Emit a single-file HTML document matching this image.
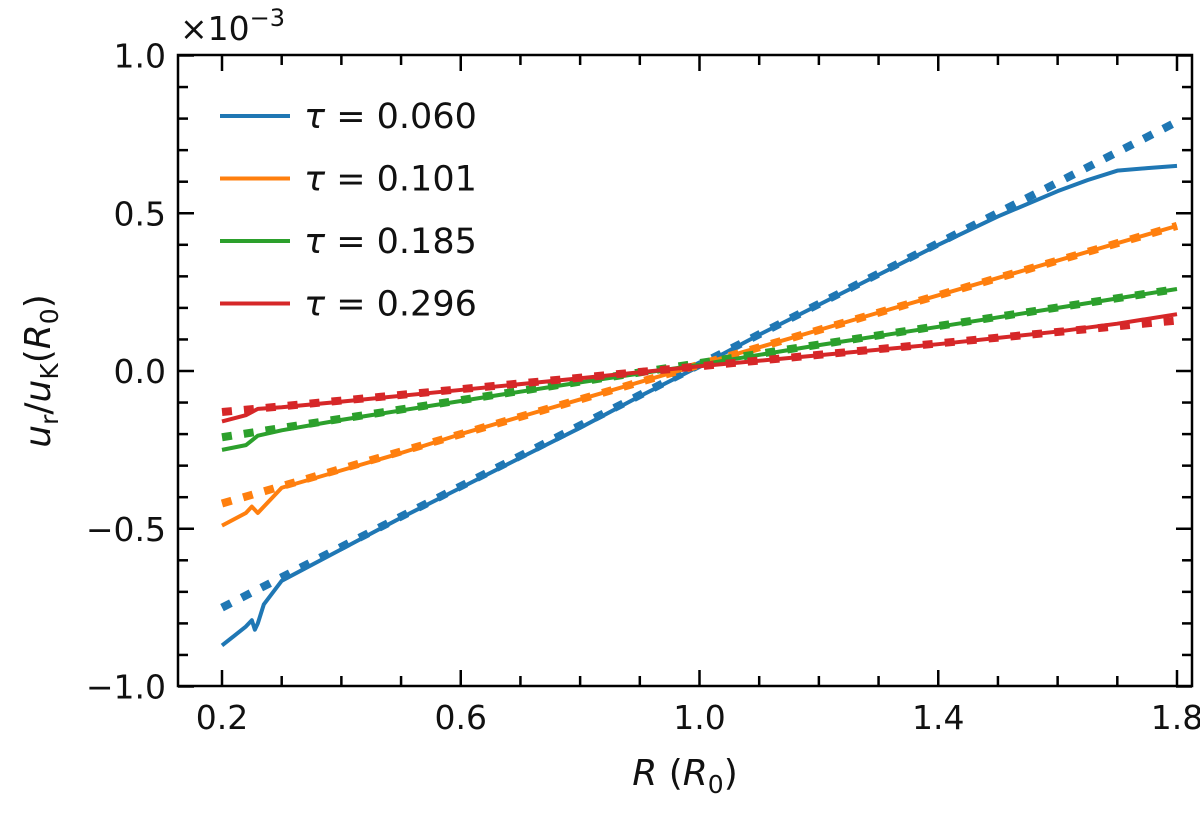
<!DOCTYPE html>
<html><head><meta charset="utf-8"><style>
body{margin:0;background:#fff}
svg text{font-family:"DejaVu Sans","Liberation Sans",sans-serif;fill:#111}
</style></head><body>
<svg id="c" width="1200" height="809"></svg>
<script>
const xTicks=[0.2,0.6,1.0,1.4,1.8];
const xTickLabels=["0.2","0.6","1.0","1.4","1.8"];
const yTicks=[-1,-0.5,0,0.5,1];
const yTickLabels=["\u22121.0","\u22120.5","0.0","0.5","1.0"];
const seriesNames=["0.060","0.101","0.185","0.296"];
const colors=["#1f77b4","#ff7f0e","#2ca02c","#d62728"];
const blueR=[0.2,0.22,0.24,0.25,0.255,0.26,0.27,0.3,0.4,0.5,0.6,0.7,0.8,0.9,1.0,1.1,1.2,1.3,1.4,1.5,1.6,1.65,1.7,1.75,1.8];
const blueU=[-0.87,-0.84,-0.81,-0.79,-0.82,-0.8,-0.74,-0.665,-0.565,-0.465,-0.37,-0.275,-0.18,-0.08,0.015,0.115,0.21,0.305,0.4,0.49,0.57,0.605,0.635,0.643,0.65];
const orangeR=[0.2,0.24,0.25,0.26,0.28,0.3,0.4,0.5,0.6,0.7,0.8,0.9,1.0,1.1,1.2,1.3,1.4,1.5,1.6,1.7,1.8];
const orangeU=[-0.49,-0.45,-0.43,-0.45,-0.41,-0.37,-0.315,-0.26,-0.2,-0.145,-0.09,-0.035,0.02,0.075,0.13,0.185,0.24,0.295,0.35,0.405,0.46];
const greenR=[0.2,0.24,0.26,0.3,0.4,0.6,0.8,1.0,1.2,1.4,1.6,1.8];
const greenU=[-0.25,-0.235,-0.205,-0.188,-0.155,-0.095,-0.036,0.02,0.082,0.14,0.2,0.26];
const redR=[0.2,0.24,0.26,0.3,0.4,0.6,0.8,1.0,1.2,1.4,1.6,1.7,1.8];
const redU=[-0.16,-0.14,-0.12,-0.115,-0.097,-0.06,-0.023,0.015,0.05,0.085,0.125,0.15,0.18];
const fitR=[0.2,1.8];
const fitBlue=[-0.75,0.79];
const fitOrange=[-0.42,0.46];
const fitGreen=[-0.21,0.26];
const fitRed=[-0.13,0.16];

const L=178,R=1192,T=55,B=686;
const x=v=>222+(v-0.2)*(1177-222)/1.6;
const y=v=>371-v*(B-T)/2;
const svg=document.getElementById('c');
const NS="http://www.w3.org/2000/svg";
function mk(t,a,p){const e=document.createElementNS(NS,t);for(const k in a)e.setAttribute(k,a[k]);(p||svg).appendChild(e);return e;}
const solids=[[blueR,blueU],[orangeR,orangeU],[greenR,greenU],[redR,redU]];
const fits=[fitBlue,fitOrange,fitGreen,fitRed];
for(let i=0;i<4;i++){
 const f=mk('line',{x1:x(fitR[0]),y1:y(fits[i][0]),x2:x(fitR[1]),y2:y(fits[i][1]),stroke:colors[i],'stroke-width':8,'stroke-dasharray':'10 12'});
 
 
 const d=solids[i][0].map((r,j)=>(j?'L':'M')+x(r)+' '+y(solids[i][1][j])).join(' ');
 const p=mk('path',{d:d,fill:'none',stroke:colors[i],'stroke-width':4,'stroke-linejoin':'round'});
 
 
}
const fr=mk('rect',{x:L,y:T,width:R-L,height:B-T,fill:'none',stroke:'#000','stroke-width':2.5});


for(let k=2;k<=18;k++){const v=k/10,maj=(k%4==2),len=maj?16:10;
 mk('line',{x1:x(v),x2:x(v),y1:B,y2:B-len,stroke:'#000','stroke-width':2.5});
 mk('line',{x1:x(v),x2:x(v),y1:T,y2:T+len,stroke:'#000','stroke-width':2.5});}
for(let k=-10;k<=10;k++){const v=k/10,maj=(k%5==0),len=maj?16:10;
 mk('line',{x1:L,x2:L+len,y1:y(v),y2:y(v),stroke:'#000','stroke-width':2.5});
 mk('line',{x1:R,x2:R-len,y1:y(v),y2:y(v),stroke:'#000','stroke-width':2.5});}
xTicks.forEach((v,i)=>{const t=mk('text',{x:x(v),y:B+43,'text-anchor':'middle','font-size':33});t.textContent=xTickLabels[i];
 
 });
yTicks.forEach((v,i)=>{const t=mk('text',{x:L-12,y:y(v)+12,'text-anchor':'end','font-size':33});t.textContent=yTickLabels[i];
 
 });
seriesNames.forEach((n,i)=>{const yy=116+i*62.5;
 const g=mk('g',{});
 
 
 mk('line',{x1:220,x2:290,y1:yy,y2:yy,stroke:colors[i],'stroke-width':4},g);
 const t=mk('text',{x:304,y:yy+12,'font-size':35},g);
 t.innerHTML='<tspan font-style="italic">τ</tspan> = '+n;});
</script>
<div style="position:absolute;left:0;top:0">
<svg width="1200" height="809" style="position:absolute;left:0;top:0">
<text x="180" y="40" font-size="33" font-family="DejaVu Sans,sans-serif">×10<tspan dy="-14" font-size="24">−3</tspan></text>
<text x="685" y="785" text-anchor="middle" font-size="36" font-family="DejaVu Sans,sans-serif"><tspan font-style="italic">R</tspan> (<tspan font-style="italic">R</tspan><tspan font-size="25" dy="8">0</tspan><tspan dy="-8">)</tspan></text>
<text transform="translate(50,371) rotate(-90)" text-anchor="middle" font-size="36" font-family="DejaVu Sans,sans-serif"><tspan font-style="italic">u</tspan><tspan font-size="25" dy="8">r</tspan><tspan dy="-8">/</tspan><tspan font-style="italic">u</tspan><tspan font-size="25" dy="8">K</tspan><tspan dy="-8">(</tspan><tspan font-style="italic">R</tspan><tspan font-size="25" dy="8">0</tspan><tspan dy="-8">)</tspan></text>
</svg></div>
</body></html>
